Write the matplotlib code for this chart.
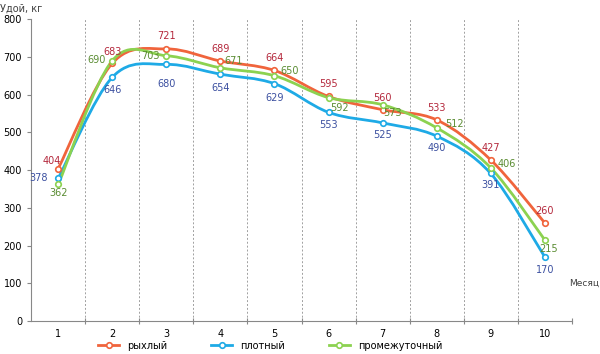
import numpy as np
import matplotlib
matplotlib.use("Agg")
import matplotlib.pyplot as plt
from matplotlib.path import Path
from matplotlib.patches import PathPatch
from matplotlib.lines import Line2D

months = [1, 2, 3, 4, 5, 6, 7, 8, 9, 10]
ryhly = [404, 683, 721, 689, 664, 595, 560, 533, 427, 260]
plotny = [378, 646, 680, 654, 629, 553, 525, 490, 391, 170]
promezh = [362, 690, 703, 671, 650, 592, 573, 512, 406, 215]

# label offsets in px (dx, dy) per point
off_r = [(-6, 8), (0, 11), (0, 13), (0, 12), (0, 12), (0, 12), (0, 12), (0, 12), (0, 12), (0, 12)]
off_b = [(-20, 0), (0, -13), (0, -20), (0, -14), (0, -14), (0, -13), (0, -12), (0, -12), (0, -12), (0, -13)]
off_g = [(0, -9), (-16, 1), (-16, 0), (13, 7), (15, 5), (11, -10), (10, -8), (18, 4), (16, 4), (4, -9)]

C_R, C_B, C_G = "#f0643c", "#1eaae6", "#8cd250"
T_R, T_B, T_G = "#b4283c", "#3c50a0", "#5a8c32"


def smooth_path(x, y):
    # excel-like smoothed line: cubic bezier through the points
    pts = np.column_stack([x, y]).astype(float)
    n = len(pts)
    verts = [pts[0]]
    codes = [Path.MOVETO]
    for i in range(n - 1):
        p0 = pts[i - 1] if i > 0 else pts[i]
        p1, p2 = pts[i], pts[i + 1]
        p3 = pts[i + 2] if i + 2 < n else pts[i + 1]
        c1 = p1 + (p2 - p0) / 6
        c2 = p2 - (p3 - p1) / 6
        verts += [c1, c2, p2]
        codes += [Path.CURVE4] * 3
    return Path(verts, codes)


fig = plt.figure(figsize=(6, 3.54), dpi=100)
ax = fig.add_axes([0.052, 0.093, 0.901, 0.853])

series = [(ryhly, C_R, T_R, off_r, "рыхлый"),
          (plotny, C_B, T_B, off_b, "плотный"),
          (promezh, C_G, T_G, off_g, "промежуточный")]

handles = []
for vals, c, tc, offs, name in series:
    ax.add_patch(PathPatch(smooth_path(months, vals), fill=False, edgecolor=c, lw=2, zorder=3))
    ax.plot(months, vals, "o", ms=4, mfc="white", mec=c, mew=1.2, zorder=4)
    for m, v, (dx, dy) in zip(months, vals, offs):
        ax.annotate(str(v), (m, v), xytext=(dx * 0.72, dy * 0.72), textcoords="offset points",
                    ha="center", va="center", fontsize=7, color=tc, zorder=5)
    handles.append(Line2D([], [], color=c, lw=2, marker="o", ms=4, mfc="white", mec=c, mew=1.2, label=name))

ax.set_xlim(0.5, 10.5)
ax.set_ylim(0, 800)
ax.set_yticks(range(0, 801, 100))
ax.set_xticks(np.arange(1.5, 11, 1))
ax.set_xticklabels([])
ax.set_xticks(months, minor=True)
ax.set_xticklabels([str(m) for m in months], minor=True)
ax.tick_params(axis="x", which="major", length=4, direction="inout", color="#888888")
ax.tick_params(axis="x", which="minor", length=0, labelsize=7, pad=6)
ax.tick_params(axis="y", length=3, labelsize=7, color="#888888")
for g in np.arange(1.5, 11, 1):
    ax.axvline(g, color="#a0a0a0", ls=(0, (2, 2)), lw=0.7, zorder=1)

for s in ["top", "right"]:
    ax.spines[s].set_visible(False)
for s in ["left", "bottom"]:
    ax.spines[s].set_color("#888888")
    ax.spines[s].set_linewidth(0.8)

fig.text(0.0, 0.99, "Удой, кг", fontsize=7, ha="left", va="top", color="#404040")
fig.text(0.999, 0.2, "Месяц", fontsize=6.5, ha="right", va="center", color="#404040")

fig.legend(handles=handles, loc="lower center", ncol=3, frameon=False, fontsize=7,
           bbox_to_anchor=(0.45, -0.015), columnspacing=4.5, handlelength=2.2)

fig.savefig("out.png", dpi=100)
